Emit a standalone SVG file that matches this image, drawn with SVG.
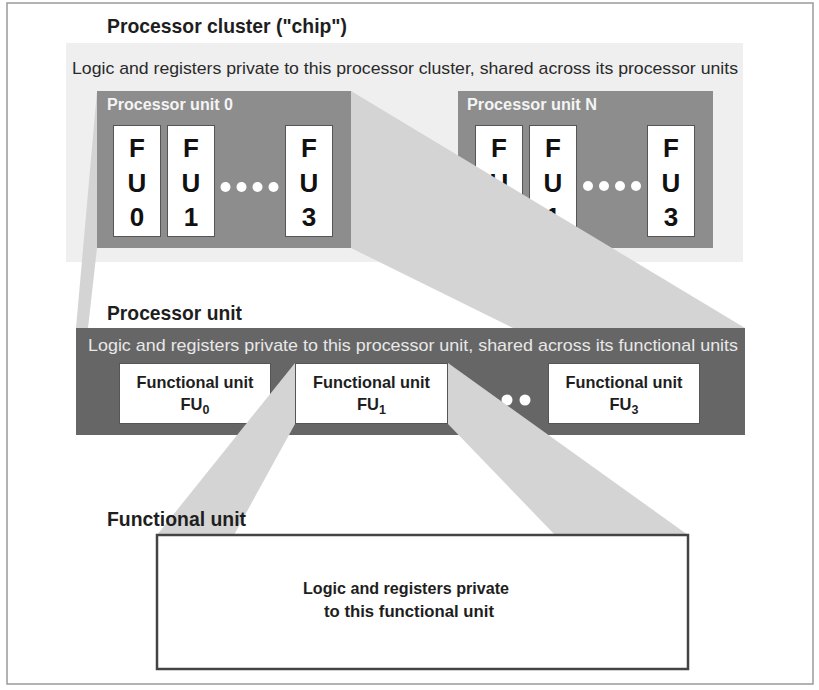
<svg xmlns="http://www.w3.org/2000/svg" width="819" height="690" viewBox="0 0 819 690">
<style>
text{font-family:"Liberation Sans",Arial,sans-serif;}
.title{font-size:21px;font-weight:bold;fill:#1e1e1e;}
.desc{font-size:17px;fill:#2a2a2a;}
.pul{font-size:16px;font-weight:bold;fill:#f4f4f4;}
.col{fill:#fff;stroke:#555;stroke-width:1;}
.colt{font-size:26px;font-weight:bold;fill:#111;text-anchor:middle;}
.dot{fill:#fff;}
.band{fill:#d4d4d4;}
.pu{fill:#8d8d8d;}
.fub{fill:#fff;stroke:#555;stroke-width:1;}
.ful{font-size:16.5px;font-weight:bold;fill:#1e1e1e;text-anchor:middle;}
</style>
<rect x="7" y="3" width="806" height="681" fill="#fff" stroke="#9a9a9a" stroke-width="1.5"/>

<g id="cluster">
<text class="title" x="107" y="33" textLength="240" lengthAdjust="spacingAndGlyphs">Processor cluster ("chip")</text>
<rect x="66" y="43" width="677" height="219" fill="#efefef"/>
<text class="desc" x="72" y="74" textLength="666" lengthAdjust="spacingAndGlyphs">Logic and registers private to this processor cluster, shared across its processor units</text>
</g>

<g id="pu-n">
<rect class="pu" x="458" y="91" width="255" height="157"/>
<text class="pul" x="467" y="110" textLength="130" lengthAdjust="spacingAndGlyphs">Processor unit N</text>
<rect class="col" x="475.5" y="125.5" width="47" height="111"/>
<rect class="col" x="529.5" y="125.5" width="47" height="111"/>
<rect class="col" x="647.5" y="125.5" width="47" height="111"/>
<text class="colt" x="499" y="157">F</text><text class="colt" x="499" y="192">U</text><text class="colt" x="499" y="226">0</text>
<text class="colt" x="553" y="157">F</text><text class="colt" x="553" y="192">U</text><text class="colt" x="553" y="226">1</text>
<text class="colt" x="671" y="157">F</text><text class="colt" x="671" y="192">U</text><text class="colt" x="671" y="226">3</text>
<circle class="dot" cx="588" cy="186" r="5"/><circle class="dot" cx="604" cy="186" r="5"/><circle class="dot" cx="620" cy="186" r="5"/><circle class="dot" cx="636" cy="186" r="5"/>
</g>

<g id="connectors-upper">
<polygon class="band" points="97,91 97,248 88,328 76,328"/>
<polygon class="band" points="351,91 745,328 513,328 351,248"/>
</g>

<g id="pu-0">
<rect class="pu" x="97" y="91" width="254" height="157"/>
<text class="pul" x="107" y="110" textLength="126" lengthAdjust="spacingAndGlyphs">Processor unit 0</text>
<rect class="col" x="113.5" y="125.5" width="47" height="111"/>
<rect class="col" x="167.5" y="125.5" width="47" height="111"/>
<rect class="col" x="285.5" y="125.5" width="47" height="111"/>
<text class="colt" x="137" y="157">F</text><text class="colt" x="137" y="192">U</text><text class="colt" x="137" y="226">0</text>
<text class="colt" x="191" y="157">F</text><text class="colt" x="191" y="192">U</text><text class="colt" x="191" y="226">1</text>
<text class="colt" x="309" y="157">F</text><text class="colt" x="309" y="192">U</text><text class="colt" x="309" y="226">3</text>
<circle class="dot" cx="225.5" cy="187" r="5"/><circle class="dot" cx="241.5" cy="187" r="5"/><circle class="dot" cx="257.5" cy="187" r="5"/><circle class="dot" cx="273.5" cy="187" r="5"/>
</g>

<g id="processor-unit">
<text class="title" x="107" y="320" textLength="135" lengthAdjust="spacingAndGlyphs">Processor unit</text>
<rect x="76" y="328" width="669" height="107" fill="#666"/>
<text class="desc" x="88" y="351" textLength="650" lengthAdjust="spacingAndGlyphs" style="fill:#e8e8e8">Logic and registers private to this processor unit, shared across its functional units</text>
<circle class="dot" cx="507" cy="400" r="5.5"/><circle class="dot" cx="525" cy="400" r="5.5"/>
</g>

<g id="fu0">
<rect class="fub" x="119.5" y="363.5" width="151" height="60"/>
<text class="ful" x="195" y="388" textLength="117" lengthAdjust="spacingAndGlyphs">Functional unit</text>
<text class="ful" x="195" y="410">FU<tspan dy="4" font-size="12.5">0</tspan></text>
</g>

<g id="connectors-lower">
<polygon class="band" points="295,363 295,424 234,535 157,535"/>
<polygon class="band" points="448,363 688,535 555,535 448,424"/>
</g>

<g id="fu1">
<rect class="fub" x="295.5" y="363.5" width="152" height="60"/>
<text class="ful" x="371.5" y="388" textLength="117" lengthAdjust="spacingAndGlyphs">Functional unit</text>
<text class="ful" x="371.5" y="410">FU<tspan dy="4" font-size="12.5">1</tspan></text>
</g>

<g id="fu3">
<rect class="fub" x="548.5" y="363.5" width="151" height="60"/>
<text class="ful" x="624" y="388" textLength="117" lengthAdjust="spacingAndGlyphs">Functional unit</text>
<text class="ful" x="624" y="410">FU<tspan dy="4" font-size="12.5">3</tspan></text>
</g>

<g id="functional-unit">
<text class="title" x="107" y="526" textLength="139" lengthAdjust="spacingAndGlyphs">Functional unit</text>
<rect x="157" y="535" width="531" height="134" fill="#fff" stroke="#444" stroke-width="2.5"/>
<text class="ful" x="406" y="594" textLength="206" lengthAdjust="spacingAndGlyphs">Logic and registers private</text>
<text class="ful" x="409" y="617" textLength="170" lengthAdjust="spacingAndGlyphs">to this functional unit</text>
</g>
</svg>
